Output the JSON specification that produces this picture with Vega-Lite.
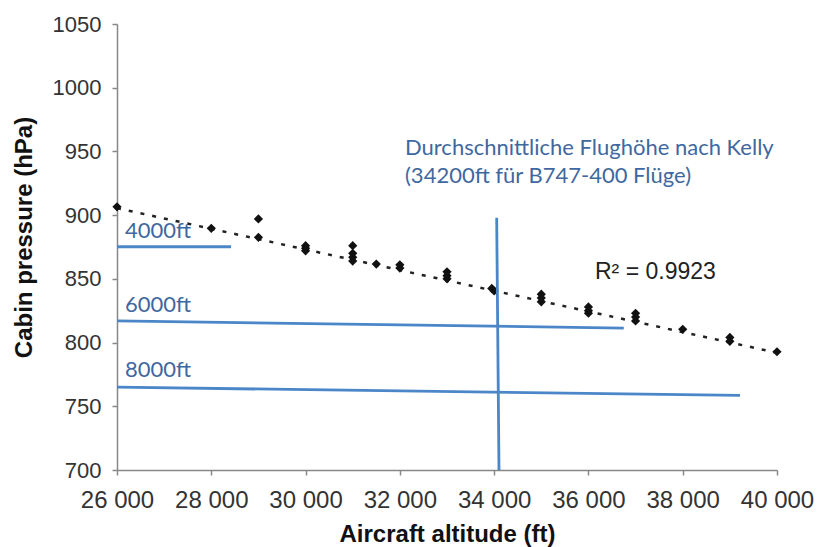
{
  "$schema": "https://vega.github.io/schema/vega-lite/v6.json",
  "width": 660,
  "height": 446,
  "autosize": {"type": "none"},
  "padding": {"left": 117, "top": 24, "right": 41, "bottom": 77},
  "background": "white",
  "config": {"view": {"stroke": null}},
  "datasets": {
    "points": [
      {"alt": 26000, "p": 906.5},
      {"alt": 28000, "p": 889.7},
      {"alt": 29000, "p": 897},
      {"alt": 29000, "p": 882.6},
      {"alt": 30000, "p": 876},
      {"alt": 30000, "p": 874},
      {"alt": 30000, "p": 872},
      {"alt": 31000, "p": 876},
      {"alt": 31000, "p": 870},
      {"alt": 31000, "p": 867},
      {"alt": 31000, "p": 864},
      {"alt": 31500, "p": 861.6},
      {"alt": 32000, "p": 861},
      {"alt": 32000, "p": 858.5},
      {"alt": 33000, "p": 855.5},
      {"alt": 33000, "p": 852.5},
      {"alt": 33000, "p": 850},
      {"alt": 33950, "p": 842.5},
      {"alt": 34000, "p": 840.5},
      {"alt": 35000, "p": 838},
      {"alt": 35000, "p": 835},
      {"alt": 35000, "p": 832},
      {"alt": 36000, "p": 828},
      {"alt": 36000, "p": 825},
      {"alt": 36000, "p": 823},
      {"alt": 37000, "p": 823},
      {"alt": 37000, "p": 820},
      {"alt": 37000, "p": 817},
      {"alt": 38000, "p": 810.4},
      {"alt": 39000, "p": 804},
      {"alt": 39000, "p": 801},
      {"alt": 40000, "p": 792.8}
    ],
    "blue": [
      {"x1": 26000, "y1": 875.2, "x2": 28420, "y2": 875.2},
      {"x1": 26000, "y1": 817, "x2": 36750, "y2": 811.4},
      {"x1": 26000, "y1": 765, "x2": 39215, "y2": 758.6},
      {"x1": 34054, "y1": 898, "x2": 34103, "y2": 700}
    ],
    "trend": [
      {"x1": 26000, "y1": 905.5, "x2": 40000, "y2": 792}
    ],
    "bluetext": [
      {"x": 26170, "y": 887.8, "t": "4000ft"},
      {"x": 26170, "y": 829.5, "t": "6000ft"},
      {"x": 26170, "y": 778.5, "t": "8000ft"},
      {"x": 32109, "y": 952.7, "t": "Durchschnittliche Flughöhe nach Kelly"},
      {"x": 32109, "y": 930.7, "t": "(34200ft für B747-400 Flüge)"}
    ],
    "r2": [
      {"x": 36139, "y": 855.6, "t": "R² = 0.9923"}
    ]
  },
  "layer": [
    {
      "data": {"name": "trend"},
      "mark": {"type": "rule", "color": "#222222", "strokeWidth": 2.5, "strokeDash": [4, 8]},
      "encoding": {
        "x": {
          "field": "x1", "type": "quantitative",
          "scale": {"domain": [26000, 40000], "nice": false, "zero": false},
          "axis": {
            "title": "Aircraft altitude (ft)",
            "values": [26000, 28000, 30000, 32000, 34000, 36000, 38000, 40000],
            "labelExpr": "replace(format(datum.value, ','), ',', ' ')",
            "grid": false,
            "domainColor": "#888888", "domainWidth": 1.5,
            "tickColor": "#888888", "tickSize": 5, "tickWidth": 1.5,
            "labelFont": "Arial, Liberation Sans, sans-serif", "labelFontSize": 24, "labelColor": "#333333",
            "labelPadding": 13, "labelFlush": false, "labelOverlap": false,
            "titleFont": "Arial, Liberation Sans, sans-serif", "titleFontSize": 24, "titleFontWeight": "bold",
            "titleColor": "#111111", "titlePadding": 10
          }
        },
        "x2": {"field": "x2"},
        "y": {
          "field": "y1", "type": "quantitative",
          "scale": {"domain": [700, 1050], "nice": false, "zero": false},
          "axis": {
            "title": "Cabin pressure (hPa)",
            "values": [700, 750, 800, 850, 900, 950, 1000, 1050],
            "labelExpr": "format(datum.value, 'd')",
            "grid": false,
            "domainColor": "#888888", "domainWidth": 1.5,
            "tickColor": "#888888", "tickSize": 5, "tickWidth": 1.5,
            "labelFont": "Arial, Liberation Sans, sans-serif", "labelFontSize": 22, "labelColor": "#333333",
            "labelPadding": 11, "labelFlush": false, "labelOverlap": false,
            "titleFont": "Arial, Liberation Sans, sans-serif", "titleFontSize": 24, "titleFontWeight": "bold",
            "titleColor": "#111111", "titlePadding": 16, "titleY": 213
          }
        },
        "y2": {"field": "y2"}
      }
    },
    {
      "data": {"name": "points"},
      "mark": {"type": "point", "shape": "diamond", "filled": true, "color": "#111111", "size": 85, "opacity": 1},
      "encoding": {
        "x": {"field": "alt", "type": "quantitative"},
        "y": {"field": "p", "type": "quantitative"}
      }
    },
    {
      "data": {"name": "blue"},
      "mark": {"type": "rule", "color": "#4a86c8", "strokeWidth": 2.8},
      "encoding": {
        "x": {"field": "x1", "type": "quantitative"},
        "x2": {"field": "x2"},
        "y": {"field": "y1", "type": "quantitative"},
        "y2": {"field": "y2"}
      }
    },
    {
      "data": {"name": "bluetext"},
      "mark": {"type": "text", "align": "left", "baseline": "middle", "font": "Lato", "fontSize": 22, "color": "#3f68a0"},
      "encoding": {
        "x": {"field": "x", "type": "quantitative"},
        "y": {"field": "y", "type": "quantitative"},
        "text": {"field": "t"}
      }
    },
    {
      "data": {"name": "r2"},
      "mark": {"type": "text", "align": "left", "baseline": "middle", "font": "Arial, Liberation Sans, sans-serif", "fontSize": 23, "color": "#222222"},
      "encoding": {
        "x": {"field": "x", "type": "quantitative"},
        "y": {"field": "y", "type": "quantitative"},
        "text": {"field": "t"}
      }
    }
  ]
}
